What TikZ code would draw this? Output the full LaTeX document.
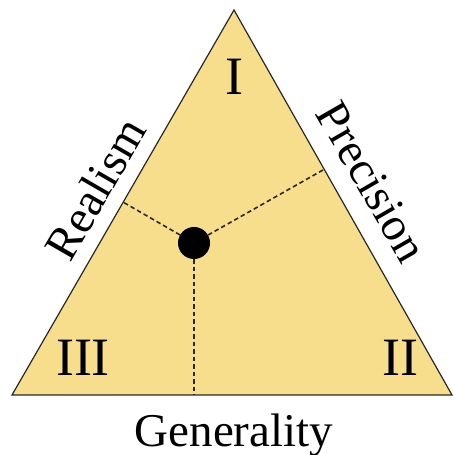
\documentclass[tikz,border=0pt]{standalone}
\usepackage{fontspec}
\setmainfont{Liberation Serif}
\usetikzlibrary{calc}
\definecolor{tri}{RGB}{247,222,140}
\definecolor{edge}{RGB}{40,40,40}
\tikzset{
  roman/.style={font=\fontsize{54}{54}\selectfont, inner sep=0pt, anchor=base},
  axislabel/.style={font=\fontsize{47}{47}\selectfont, inner sep=0pt},
  guide/.style={dash pattern=on 4.5pt off 3pt, line width=1.6pt, draw=edge},
}
\begin{document}
\begin{tikzpicture}[x=1pt,y=1pt]
\useasboundingbox (0,0) rectangle (454,455);
\coordinate (A) at (234,445);
\coordinate (B) at (12,60);
\coordinate (C) at (452,60);
\fill[tri] (A) -- (B) -- (C) -- cycle;
\draw[edge, line width=1.2pt, line join=miter] (A) -- (B) -- (C) -- cycle;
\node[circle, fill=black, minimum size=32pt, inner sep=0pt] (dot) at (194,212) {};
\coordinate (fl) at ($(B)!(dot.center)!(A)$);
\coordinate (fr) at ($(C)!(dot.center)!(A)$);
\coordinate (fb) at ($(B)!(dot.center)!(C)$);
\draw[guide] (dot) -- (fl);
\draw[guide] (dot) -- (fr);
\draw[guide] (dot) -- (fb);
\node[roman] (one) at (234,360) {I};
\node[roman] (three) at (83,79) {III};
\node[roman] (two) at (400,79) {II};
\node[axislabel, anchor=base] (gen) at (234,9) {Generality};
\node[axislabel, rotate=60] (real) at (95,266) {Realism};
\node[axislabel, rotate=-60] (prec) at (372,273) {Precision};
\end{tikzpicture}
\end{document}
